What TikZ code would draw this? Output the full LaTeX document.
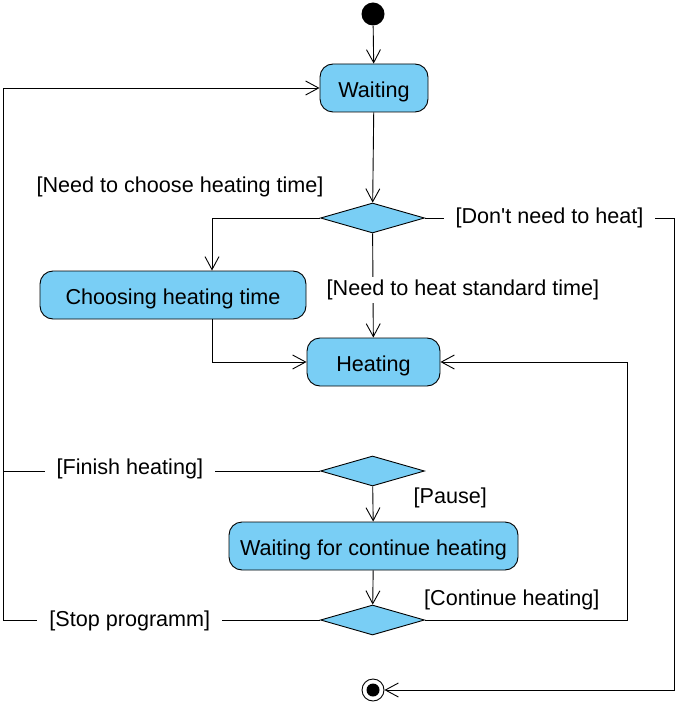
\documentclass[tikz,border=0pt]{standalone}
\usepackage{fontspec}
\setmainfont{Liberation Sans}
\usepackage{tikz}
\usetikzlibrary{arrows.meta}
\usetikzlibrary{positioning, shapes.geometric}
\definecolor{uml}{HTML}{79CEF5}

\begin{document}
\begin{tikzpicture}[x=1pt,y=-1pt,->,>={Straight Barb[length=13pt,width=14pt]},line width=0.9pt,font=\fontsize{21.6}{26}\selectfont,
  state node/.style={draw,fill=uml,rounded corners=13pt,minimum height=48pt,inner sep=0pt,text height=19pt,text depth=0pt},
  choice node/.style={draw,diamond,fill=uml,minimum width=104pt,minimum height=30pt,inner sep=0pt},
  start node/.style={circle,fill=black,minimum size=23pt,inner sep=0pt},
  final node/.style={circle,draw,minimum size=22pt,inner sep=0pt,path picture={\fill (path picture bounding box.center) circle (6.5pt);}},
  guard/.style={fill=white,inner xsep=12pt,inner ysep=3pt}]

        \useasboundingbox (0,0) rectangle (679,708);

        \node[start node] (0) at (373,14)                                      {};
        \node[state node, minimum width=108pt] (1) at (374,88)                 {Waiting};
        \node[choice node] (2) at (372.5,218)                                  {};
        \node[state node, minimum width=266pt] (3) at (173,295)                {Choosing heating time};
        \node[state node, minimum width=133pt] (4) at (373.5,362)              {Heating};
        \node[choice node] (5) at (372.5,471)                                  {};
        \node[state node, minimum width=289pt] (6) at (373.5,546)              {Waiting for continue heating};
        \node[choice node] (7) at (372.5,620)                                  {};
        \node[final node] (8) at (373,690)                                     {};

        \coordinate (left)  at (3,0);
        \coordinate (right) at (674,0);
        \coordinate (back)  at (627,0);

          \path
            (0) edge                                                         (1)
            (1) edge                                                         (2)
            (2) edge  node [guard, pos=0.54, xshift=90pt] {[Need to heat standard time]} (4)
            (5) edge  node [pos=0.33, right=37pt]        {[Pause]}           (6)
            (6) edge                                                         (7);

          \draw (2.west) -| node [pos=0.25, xshift=-86pt, yshift=31pt] {[Need to choose heating time]} ([xshift=39pt]3.north);
          \draw ([xshift=39pt]3.south) |- (4.west);
          \draw (2.east) -- node [guard] {[Don\textquotesingle t need to heat]} (2.east -| right) |- (8.east);
          \draw (5.west) -- node [guard, pos=0.6, yshift=2pt] {[Finish heating]} (5.west -| left) |- (1.west);
          \draw[-] (7.west) -- node [guard, pos=0.6, yshift=-1pt] {[Stop programm]} (7.west -| left) -- (5.west -| left);
          \draw (7.east) -- node [pos=0.43, above=6pt] {[Continue heating]} (7.east -| back) |- (4.east);
        \end{tikzpicture}
\end{document}
